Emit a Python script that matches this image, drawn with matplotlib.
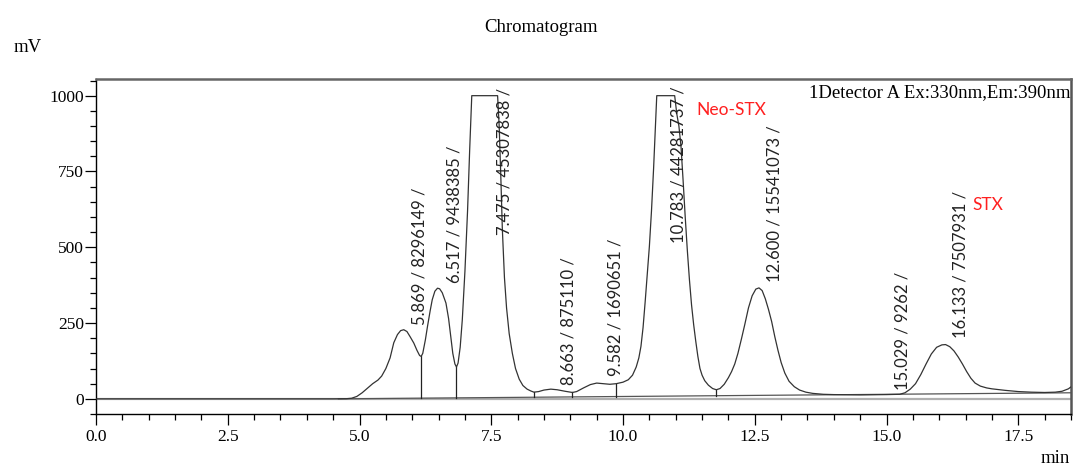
import numpy as np
import matplotlib
matplotlib.use("Agg")
import matplotlib.pyplot as plt
from matplotlib.ticker import MultipleLocator

# ---- data ----
time_min = [0.0, 4.5, 4.75, 4.85, 4.95, 5.05, 5.15, 5.25, 5.35, 5.42, 5.5, 5.58, 5.65, 5.72,
            5.78, 5.84, 5.9, 5.96, 6.03, 6.09, 6.14, 6.17, 6.2, 6.25, 6.29, 6.34, 6.38, 6.43,
            6.48, 6.52, 6.57, 6.64, 6.69, 6.73, 6.77, 6.81, 6.84, 6.87, 6.91, 6.95, 7.0, 7.05,
            7.09, 7.13, 7.62, 7.65, 7.68, 7.71, 7.75, 7.79, 7.84, 7.9, 7.96, 8.03, 8.1, 8.18,
            8.25, 8.31, 8.4, 8.5, 8.63, 8.75, 8.9, 9.04, 9.12, 9.25, 9.38, 9.5, 9.62, 9.75,
            9.87, 10.0, 10.1, 10.18, 10.25, 10.3, 10.34, 10.38, 10.42, 10.46, 10.5, 10.54,
            10.58, 10.61, 10.64, 10.98, 11.02, 11.06, 11.1, 11.14, 11.18, 11.22, 11.26, 11.3,
            11.34, 11.38, 11.42, 11.46, 11.5, 11.55, 11.62, 11.7, 11.77, 11.84, 11.92, 12.0,
            12.06, 12.12, 12.18, 12.25, 12.31, 12.38, 12.45, 12.52, 12.58, 12.64, 12.7,
            12.76, 12.82, 12.88, 12.94, 13.0, 13.07, 13.15, 13.25, 13.35, 13.47, 13.6, 13.8,
            14.0, 14.5, 15.0, 15.25, 15.35, 15.45, 15.55, 15.65, 15.75, 15.85, 15.95, 16.05,
            16.12, 16.2, 16.28, 16.36, 16.44, 16.52, 16.6, 16.68, 16.78, 16.9, 17.0, 17.25,
            17.5, 17.75, 18.0, 18.2, 18.33, 18.45, 18.52]
signal_mv = [0, 0, 0.5, 2, 8, 20, 35, 50, 62, 75, 100, 135, 185, 212,
             225, 228, 222, 205, 184, 160, 143, 140, 150, 195, 239, 290, 327, 355,
             365, 363, 350, 316, 265, 206, 150, 115, 105, 118, 170, 260, 420, 620,
             820, 1000, 1000, 900, 740, 560, 400, 300, 215, 150, 100, 65, 44, 32,
             26, 22, 24, 29, 32, 30, 25, 21, 24, 36, 47, 52, 50, 48,
             50, 55, 63, 78, 105, 135, 173, 235, 320, 410, 503, 620,
             760, 880, 1000, 1000, 940, 900, 833, 720, 600, 490, 393, 310,
             245, 190, 140, 100, 78, 60, 45, 34, 30, 34, 48, 70,
             90, 115, 150, 200, 245, 300, 340, 362, 366, 357, 330,
             295, 255, 205, 160, 120, 85, 58, 40, 29, 22, 18, 15,
             14, 13, 14, 15, 20, 32, 50, 80, 115, 148, 170, 178,
             179, 172, 158, 138, 115, 90, 68, 52, 42, 36, 33, 28,
             24, 22, 21, 22, 25, 33, 42]

baseline_t = [4.6, 18.5]
baseline_mv = [0, 20]

drop_times = [6.17, 6.84, 8.31, 9.04, 9.87, 11.77, 15.29]

peak_labels = ["5.869 / 8296149 /", "6.517 / 9438385 /", "7.475 / 45307838 /",
               "8.663 / 875110 /", "9.582 / 1690651 /", "10.783 / 44281737 /",
               "12.600 / 15541073 /", "15.029 / 9262 /", "16.133 / 7507931 /"]
label_t = [6.14, 6.80, 7.76, 8.96, 9.85, 11.05, 12.87, 15.30, 16.41]
label_mv = [244, 382, 541, 46, 74, 515, 387, 30, 201]

compound_names = ["Neo-STX", "STX"]
compound_t = [11.39, 16.62]
compound_mv = [954, 640]

# ---- figure ----
fig = plt.figure(figsize=(10.74, 4.65), dpi=100)
ax = fig.add_axes([96/1074, 1-414/465, (1071-96)/1074, (414-79)/465])

serif = "Liberation Serif"
sans = "Lato"

ax.axhline(0, color="#b0b0b0", lw=1.6, zorder=1)
ax.plot(baseline_t, baseline_mv, color="#555555", lw=0.9, zorder=2)
ax.plot(time_min, signal_mv, color="#333333", lw=0.9, zorder=3)

t_arr = np.array(time_min)
s_arr = np.array(signal_mv)
for td in drop_times:
    top = np.interp(td, t_arr, s_arr)
    bot = np.interp(td, baseline_t, baseline_mv)
    ax.plot([td, td], [bot, top], color="#222222", lw=0.9, zorder=2)

for lab, tx, ty in zip(peak_labels, label_t, label_mv):
    ax.text(tx, ty, lab, rotation=90, ha="center", va="bottom",
            fontsize=12, family=sans, color="#222222", zorder=4)

for name, tx, ty in zip(compound_names, compound_t, compound_mv):
    ax.text(tx, ty, name, ha="left", va="center", fontsize=12.5,
            family=sans, color="#ff2020", zorder=4)

ax.text(0.999, 0.985, "1Detector A Ex:330nm,Em:390nm", transform=ax.transAxes,
        ha="right", va="top", fontsize=13.5, family=serif, color="black")

ax.set_xlim(0, 18.5)
ax.set_ylim(-50, 1055)
ax.xaxis.set_minor_locator(MultipleLocator(0.5))
ax.yaxis.set_major_locator(MultipleLocator(250))
ax.yaxis.set_minor_locator(MultipleLocator(50))
ax.set_xticks(np.arange(0, 18.5, 2.5))
ax.set_xticklabels([f"{v:.1f}" for v in np.arange(0, 18.5, 2.5)])
ax.tick_params(which="major", direction="out", length=8, width=0.9, labelsize=12.5)
ax.tick_params(which="minor", direction="out", length=4.3, width=0.9)
ax.tick_params(axis="x", pad=3)
ax.tick_params(axis="y", pad=0.5)
for lbl in ax.get_xticklabels() + ax.get_yticklabels():
    lbl.set_family(serif)

ax.spines["left"].set_color("black")
ax.spines["left"].set_linewidth(1.0)
ax.spines["bottom"].set_color("black")
ax.spines["bottom"].set_linewidth(1.0)
ax.spines["top"].set_color("#666666")
ax.spines["top"].set_linewidth(1.8)
ax.spines["right"].set_color("#555555")
ax.spines["right"].set_linewidth(1.8)

fig.text(541/1074, 1-28/465, "Chromatogram", ha="center", va="center",
         fontsize=13.5, family=serif)
fig.text(28/1074, 1-47/465, "mV", ha="center", va="center", fontsize=13.5, family=serif)
fig.text(1055/1074, 1-458/465, "min", ha="center", va="center", fontsize=13.5, family=serif)

fig.savefig("out.png", dpi=100)
